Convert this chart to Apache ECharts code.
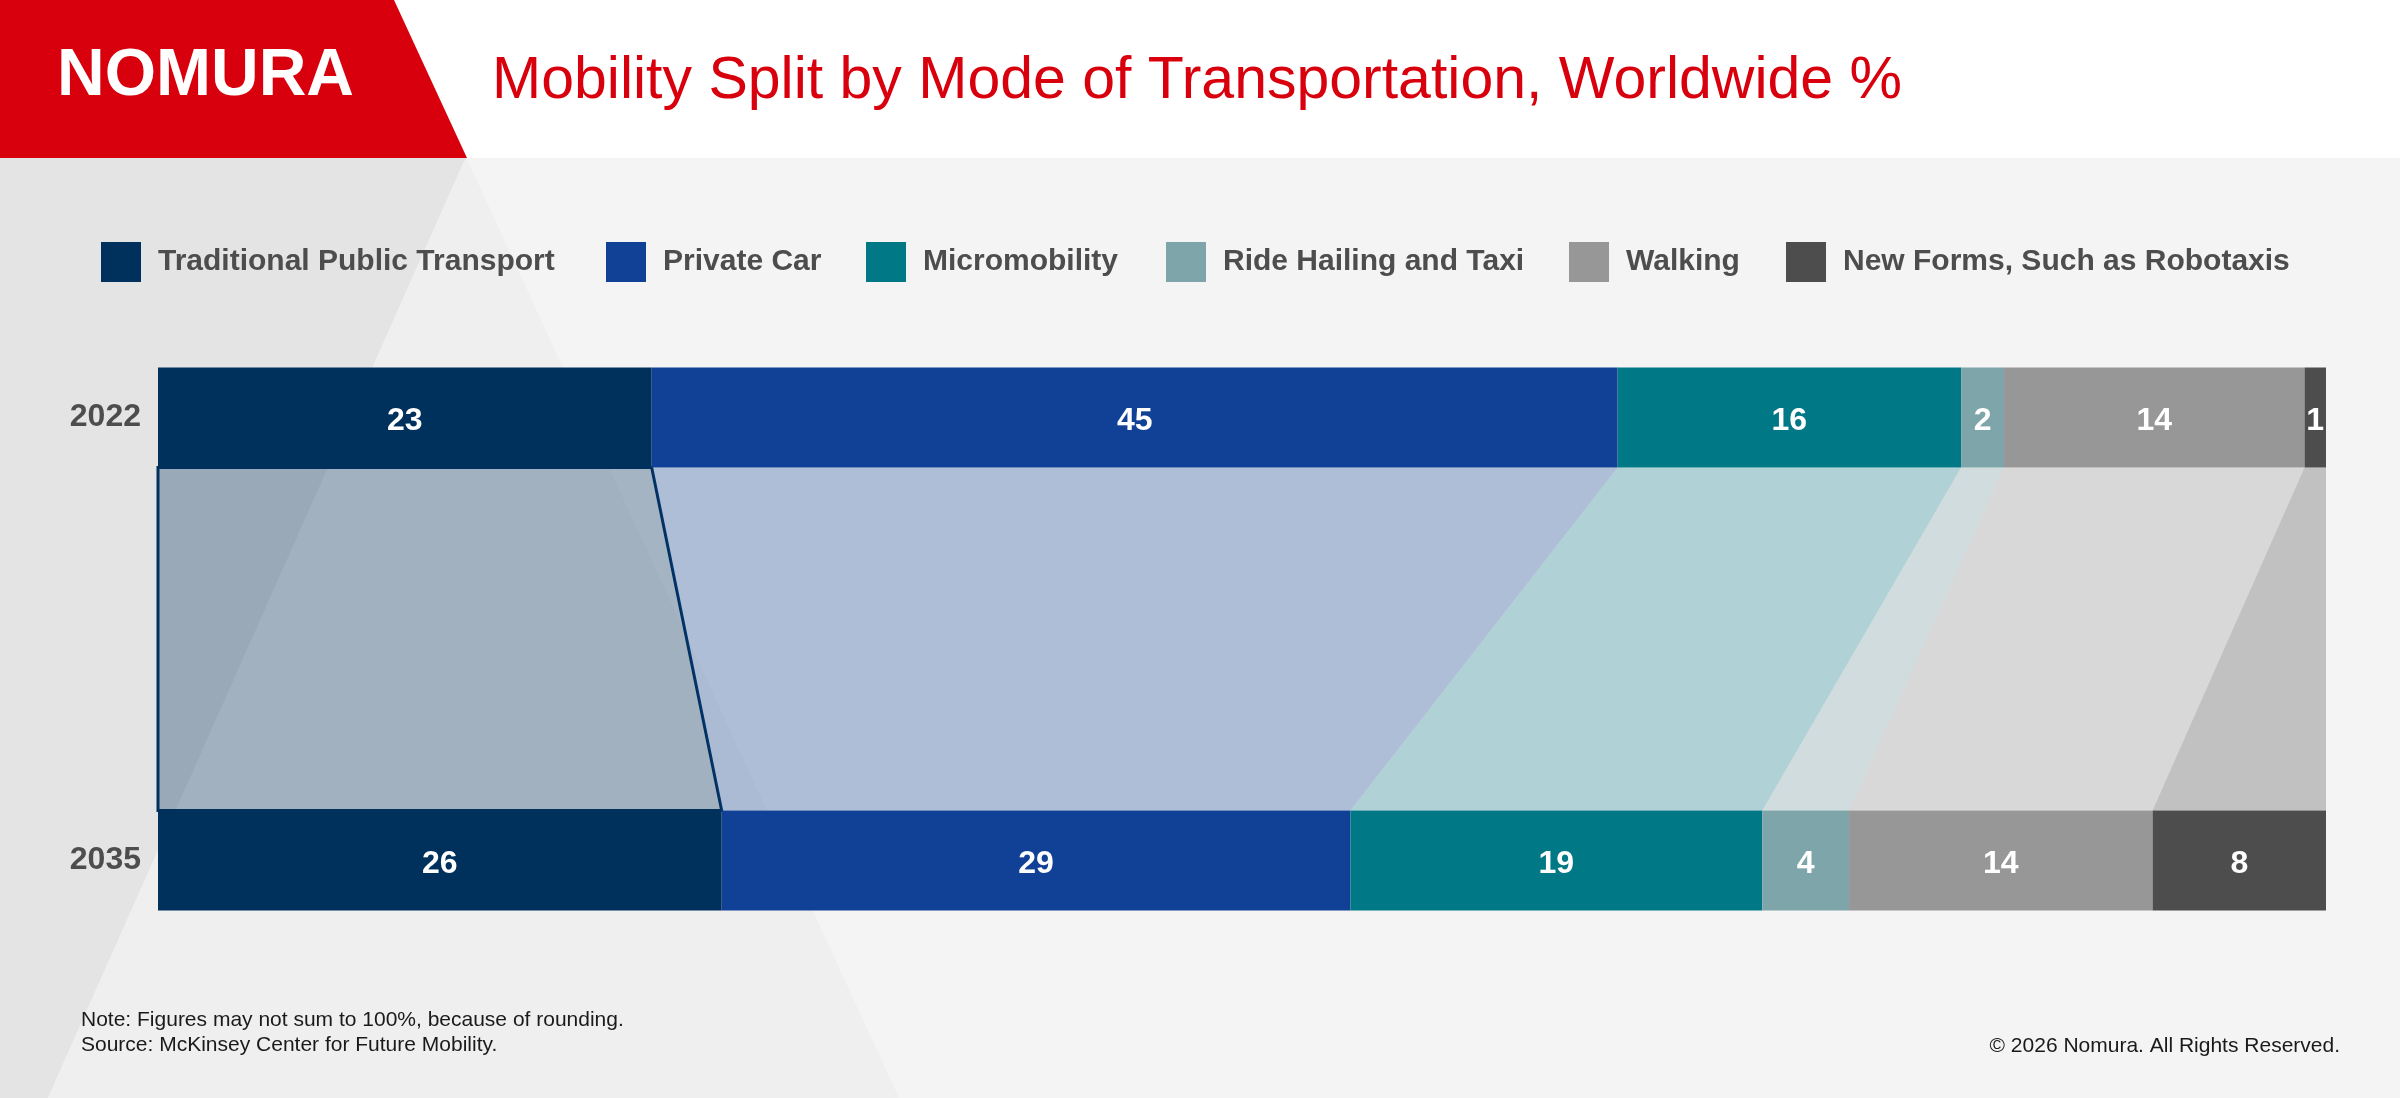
<!DOCTYPE html>
<html>
<head>
<meta charset="utf-8">
<script src="https://cdn.jsdelivr.net/npm/echarts@6/dist/echarts.min.js"></script>
<style>
  html, body { margin: 0; padding: 0; background: #f4f4f4; }
  #chart { width: 2400px; height: 1098px; }
</style>
</head>
<body>
<div id="chart"></div>
<script>
// data
var years = ['2022', '2035'];
var modes = ['Traditional Public Transport', 'Private Car', 'Micromobility',
  'Ride Hailing and Taxi', 'Walking', 'New Forms, Such as Robotaxis'];
var split2022 = [23, 45, 16, 2, 14, 1];
var split2035 = [26, 29, 19, 4, 14, 8];

// styles
var colors = ['#00305c', '#114196', '#007886', '#7ea6aa', '#979797', '#4d4d4d'];
var ribbonAlpha = [0.32, 0.3, 0.28, 0.3, 0.3, 0.3];
var legendLeft = [101, 606, 866, 1166, 1569, 1786];
var font = '"Liberation Sans", Arial, Helvetica, sans-serif';
var barW = 100;

var rows = [split2022, split2035];
// each bar spans the full width, so values are scaled to their row total
var norm = rows.map(function (r) {
  var t = r.reduce(function (a, b) { return a + b; }, 0);
  return r.map(function (v) { return v / t * 100; });
});

// ribbon data: [start2022, end2022, start2035, end2035, category]
var ribbons = modes.map(function (m, i) {
  var s = [0, 0];
  for (var k = 0; k < i; k++) { s[0] += norm[0][k]; s[1] += norm[1][k]; }
  return [s[0], s[0] + norm[0][i], s[1], s[1] + norm[1][i], years[0]];
});

var series = modes.map(function (m, i) {
  return {
    name: m,
    type: 'bar',
    stack: 'total',
    barWidth: barW,
    data: [norm[0][i], norm[1][i]],
    itemStyle: { color: colors[i] },
    label: {
      show: true,
      position: 'inside',
      offset: [0, 4],
      color: '#ffffff',
      fontFamily: font,
      fontWeight: 'bold',
      fontSize: 32,
      formatter: function (p) { return rows[p.dataIndex][i]; }
    }
  };
});

series.push({
  type: 'custom',
  silent: true,
  encode: { x: [0, 1, 2, 3], y: 4 },
  data: ribbons,
  renderItem: function (params, api) {
    var i = params.dataIndex;
    var a = api.coord([api.value(0), 0]);
    var b = api.coord([api.value(1), 0]);
    var c = api.coord([api.value(3), 1]);
    var d = api.coord([api.value(2), 1]);
    var h = barW / 2;
    return {
      type: 'polygon',
      shape: { points: [[a[0], a[1] + h], [b[0], b[1] + h], [c[0], c[1] - h], [d[0], d[1] - h]] },
      style: {
        fill: echarts.color.modifyAlpha(colors[i], ribbonAlpha[i]),
        stroke: i === 0 ? colors[0] : null,
        lineWidth: i === 0 ? 3 : 0
      }
    };
  }
});

var legends = modes.map(function (m, i) {
  return {
    data: [m],
    left: legendLeft[i],
    top: 242,
    padding: 0,
    itemWidth: 40,
    itemHeight: 40,
    icon: 'rect',
    selectedMode: false,
    textStyle: {
      color: '#4d4d4d',
      fontFamily: font,
      fontWeight: 'bold',
      fontSize: 30,
      padding: [3, 0, 0, 12]
    }
  };
});

var option = {
  backgroundColor: '#f4f4f4',
  animation: false,
  legend: legends,
  grid: { left: 158, right: 74, top: 196, bottom: 16 },
  xAxis: { type: 'value', min: 0, max: 100, show: false },
  yAxis: {
    type: 'category',
    data: years,
    inverse: true,
    axisLine: { show: false },
    axisTick: { show: false },
    axisLabel: {
      margin: 17,
      padding: [8, 0, 0, 0],
      color: '#4d4d4d',
      fontFamily: font,
      fontWeight: 'bold',
      fontSize: 32
    }
  },
  graphic: [
    { type: 'polygon', silent: true, shape: { points: [[0, 157], [466, 157], [48, 1098], [0, 1098]] }, style: { fill: '#e4e4e4' } },
    { type: 'polygon', silent: true, shape: { points: [[466, 157], [899, 1098], [48, 1098]] }, style: { fill: '#efefef' } },
    { type: 'rect', silent: true, shape: { x: 0, y: 0, width: 2400, height: 158 }, style: { fill: '#ffffff' } },
    { type: 'polygon', silent: true, shape: { points: [[0, 0], [394, 0], [467, 158], [0, 158]] }, style: { fill: '#d9000d' } },
    { type: 'text', x: 57, y: 77, style: { text: 'NOMURA', fill: '#ffffff', font: 'bold 66px ' + font, verticalAlign: 'middle' } },
    { type: 'text', x: 492, y: 82, style: { text: 'Mobility Split by Mode of Transportation, Worldwide %', fill: '#d9000d', font: '59px ' + font, verticalAlign: 'middle' } },
    { type: 'text', x: 81, y: 1020, style: { text: 'Note: Figures may not sum to 100%, because of rounding.', fill: '#1a1a1a', font: '21px ' + font, verticalAlign: 'middle' } },
    { type: 'text', x: 81, y: 1045, style: { text: 'Source: McKinsey Center for Future Mobility.', fill: '#1a1a1a', font: '21px ' + font, verticalAlign: 'middle' } },
    { type: 'text', x: 2340, y: 1046, style: { text: '\u00a9 2026 Nomura. All Rights Reserved.', fill: '#1a1a1a', font: '21px ' + font, align: 'right', verticalAlign: 'middle' } }
  ],
  series: series
};

var myChart = echarts.init(document.getElementById('chart'));
myChart.setOption(option);
</script>
</body>
</html>
